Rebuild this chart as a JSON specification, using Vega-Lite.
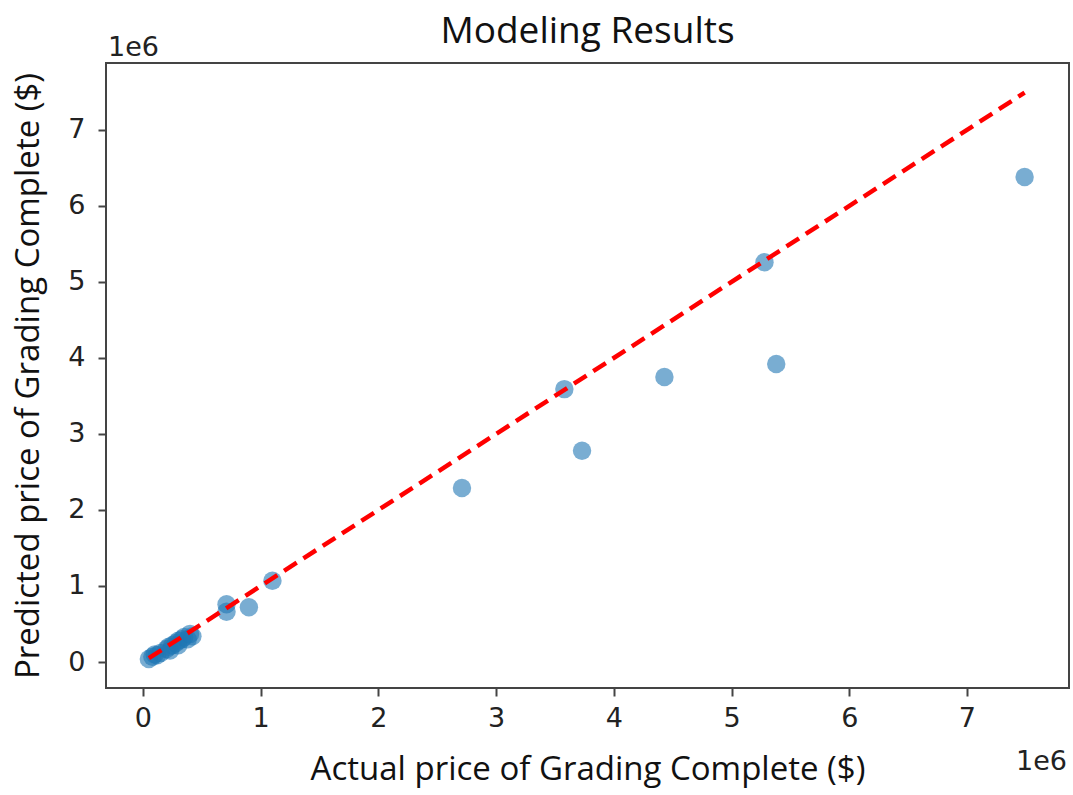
{
  "$schema": "https://vega.github.io/schema/vega-lite/v6.json",
  "width": 963,
  "height": 625,
  "autosize": "none",
  "padding": {"left": 106, "top": 63, "right": 4, "bottom": 107},
  "background": "white",
  "title": {"text": "Modeling Results", "fontSize": 37, "font": "Open Sans", "fontWeight": "normal", "color": "#111", "offset": -17},
  "config": {
    "title": {"fontSize": 37, "font": "Open Sans", "fontWeight": "normal"},
    "view": {"stroke": "#444", "strokeWidth": 2},
    "axis": {"grid": false, "domain": false, "tickColor": "#444", "tickWidth": 2, "tickSize": 8, "labelFont": "DejaVu Sans", "labelFontSize": 27, "labelColor": "#222", "titleFont": "Open Sans", "titleFontSize": 33, "titleFontWeight": "normal", "titleColor": "#111", "labelPadding": 9}
  },
  "datasets": {
    "pts": [
      {"actual": 7490000, "predicted": 6380000},
      {"actual": 5280000, "predicted": 5260000},
      {"actual": 5380000, "predicted": 3920000},
      {"actual": 4430000, "predicted": 3750000},
      {"actual": 3580000, "predicted": 3590000},
      {"actual": 3730000, "predicted": 2780000},
      {"actual": 2710000, "predicted": 2290000},
      {"actual": 1100000, "predicted": 1070000},
      {"actual": 900000, "predicted": 720000},
      {"actual": 710000, "predicted": 760000},
      {"actual": 710000, "predicted": 660000},
      {"actual": 50000, "predicted": 40000},
      {"actual": 80000, "predicted": 70000},
      {"actual": 100000, "predicted": 100000},
      {"actual": 120000, "predicted": 90000},
      {"actual": 150000, "predicted": 120000},
      {"actual": 200000, "predicted": 170000},
      {"actual": 220000, "predicted": 200000},
      {"actual": 230000, "predicted": 150000},
      {"actual": 250000, "predicted": 220000},
      {"actual": 280000, "predicted": 250000},
      {"actual": 300000, "predicted": 280000},
      {"actual": 300000, "predicted": 220000},
      {"actual": 330000, "predicted": 300000},
      {"actual": 350000, "predicted": 330000},
      {"actual": 380000, "predicted": 300000},
      {"actual": 400000, "predicted": 370000},
      {"actual": 420000, "predicted": 340000}
    ],
    "line": [
      {"actual": 50000, "predicted": 50000},
      {"actual": 7490000, "predicted": 7490000}
    ]
  },
  "layer": [
    {
      "data": {"name": "pts"},
      "mark": {"type": "circle", "size": 340, "color": "#1f77b4", "opacity": 0.6},
      "encoding": {
        "x": {"field": "actual", "type": "quantitative", "scale": {"domain": [-314000, 7867000], "nice": false, "zero": false}, "axis": {"values": [0,1000000,2000000,3000000,4000000,5000000,6000000,7000000], "labelExpr": "format(datum.value/1000000,'d')", "title": "Actual price of Grading Complete ($)", "titlePadding": 22}},
        "y": {"field": "predicted", "type": "quantitative", "scale": {"domain": [-342000, 7880000], "nice": false, "zero": false}, "axis": {"values": [0,1000000,2000000,3000000,4000000,5000000,6000000,7000000], "labelExpr": "format(datum.value/1000000,'d')", "title": "Predicted price of Grading Complete ($)", "titlePadding": 22, "labelPadding": 13}}
      }
    },
    {
      "data": {"name": "line"},
      "mark": {"type": "line", "color": "red", "strokeWidth": 4.5, "strokeDash": [15, 8]},
      "encoding": {
        "x": {"field": "actual", "type": "quantitative"},
        "y": {"field": "predicted", "type": "quantitative"}
      }
    },
    {
      "data": {"values": [{"x": -314000, "y": 7880000, "t": "1e6"}]},
      "mark": {"type": "text", "font": "DejaVu Sans", "fontSize": 27, "color": "#222", "align": "left", "baseline": "middle", "dy": -15, "dx": 2},
      "encoding": {"x": {"field": "x", "type": "quantitative"}, "y": {"field": "y", "type": "quantitative"}, "text": {"field": "t"}}
    },
    {
      "data": {"values": [{"x": 7867000, "y": -342000, "t": "1e6"}]},
      "mark": {"type": "text", "font": "DejaVu Sans", "fontSize": 27, "color": "#222", "align": "right", "baseline": "middle", "dy": 74, "dx": -2},
      "encoding": {"x": {"field": "x", "type": "quantitative"}, "y": {"field": "y", "type": "quantitative"}, "text": {"field": "t"}}
    }
  ]
}
